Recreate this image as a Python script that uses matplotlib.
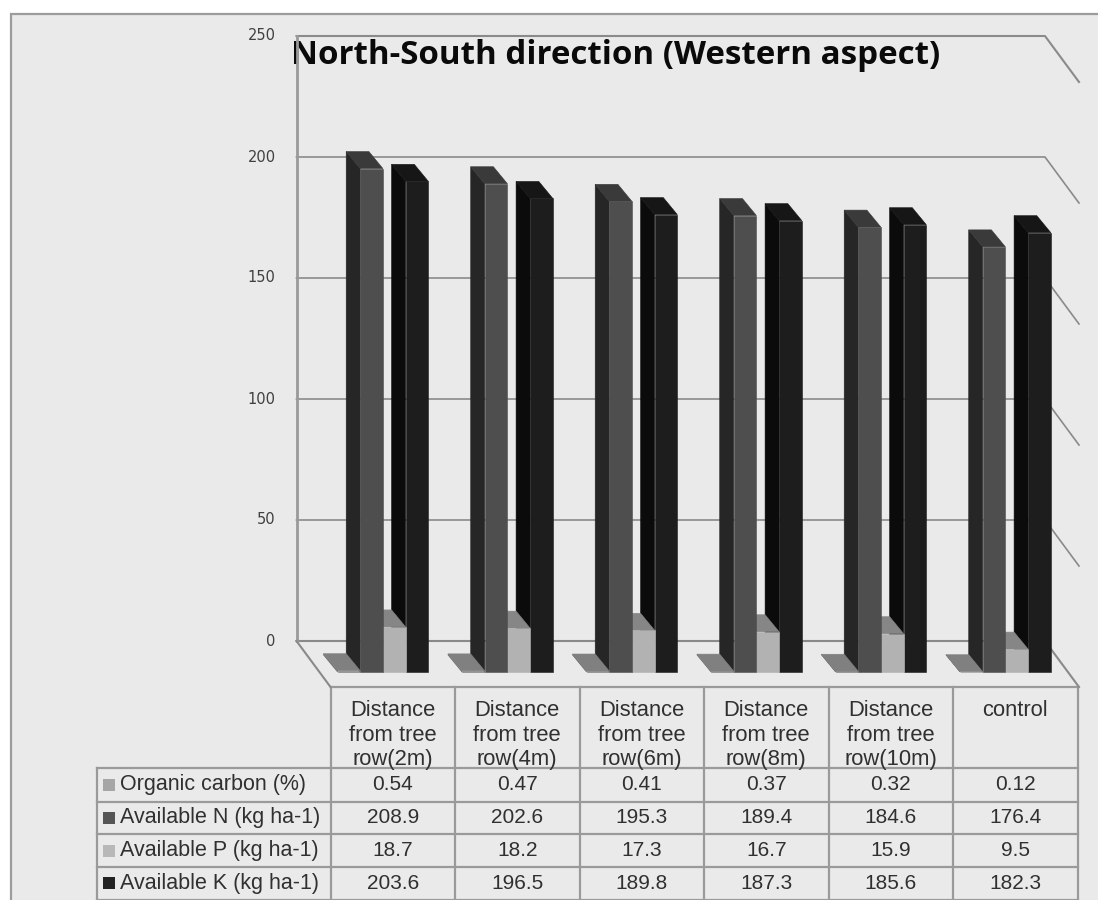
import matplotlib
matplotlib.use("Agg")
import matplotlib.pyplot as plt
from matplotlib.patches import Polygon, Rectangle

# Soil nutrients by distance from the tree row
categories = [
    ["Distance", "from tree", "row(2m)"],
    ["Distance", "from tree", "row(4m)"],
    ["Distance", "from tree", "row(6m)"],
    ["Distance", "from tree", "row(8m)"],
    ["Distance", "from tree", "row(10m)"],
    ["control"],
]
series_names = ["Organic carbon (%)", "Available N (kg ha-1)",
                "Available P (kg ha-1)", "Available K (kg ha-1)"]
organic_carbon = [0.54, 0.47, 0.41, 0.37, 0.32, 0.12]
available_n = [208.9, 202.6, 195.3, 189.4, 184.6, 176.4]
available_p = [18.7, 18.2, 17.3, 16.7, 15.9, 9.5]
available_k = [203.6, 196.5, 189.8, 187.3, 185.6, 182.3]
value_ticks = [0, 50, 100, 150, 200, 250]

series = [organic_carbon, available_n, available_p, available_k]
# front, side and top shades of each column, plus its legend key
shades = [("#808080", "#707070", "#808080", "#a6a6a6"),
          ("#4e4e4e", "#262626", "#3a3a3a", "#555555"),
          ("#b2b2b2", "#9a9a9a", "#868686", "#b8b8b8"),
          ("#1d1d1d", "#0b0b0b", "#161616", "#222222")]

W, H = 1098, 900
GROUP_PX = 124.5       # width of one category
UNIT_PX = 2.41         # height of one value unit
LEFT_PX, BASE_PX = 330.5, 672
BAR_PX = 22.7
BAR_START_PX = 7.0
DEPTH_X, DEPTH_Y = 14 / GROUP_PX, 17 / UNIT_PX   # column depth in data units
WALL_X0 = -34 / GROUP_PX
WALL_LIFT = 31 / UNIT_PX
WALL_RIGHT = 1045
GRID = "#8a8a8a"
LINE = "#9a9a9a"
TEXT = "#303030"

fig = plt.figure(figsize=(W / 100, H / 100), dpi=100, facecolor="white")

# Pixel-layout layer: page, table rules and table text
page = fig.add_axes([0, 0, 1, 1], zorder=1)
page.set_xlim(0, W)
page.set_ylim(H, 0)
page.axis("off")

# Chart layer: x in categories, y in value units, zero at the column bases
ax = fig.add_axes([0, 0, 1, 1], zorder=2)
ax.set_xlim(-LEFT_PX / GROUP_PX, (W - LEFT_PX) / GROUP_PX)
ax.set_ylim((BASE_PX - H) / UNIT_PX, BASE_PX / UNIT_PX)
ax.axis("off")

page.add_patch(Rectangle((10, 13), W, H, fc="#eaeaea", ec="none"))
page.plot([W, 10.5, 10.5], [13.5, 13.5, H], color="#9c9c9c", lw=1.6,
          solid_joinstyle="miter")

# Back wall gridlines with their returns along the right-hand side wall
wall_r = (WALL_RIGHT - LEFT_PX) / GROUP_PX
side_r = (1079 - LEFT_PX) / GROUP_PX
side_drop = 46 / UNIT_PX
for v in value_ticks:
    y = v * 2.42 / UNIT_PX + WALL_LIFT
    lw = 1.5 if v in (0, 250) else 1.2
    ax.plot([WALL_X0, wall_r, side_r], [y, y, y - side_drop],
            color=GRID, lw=lw, zorder=1)
    ax.text(WALL_X0 - 21 / GROUP_PX, y, str(v), ha="right", va="center",
            family="DejaVu Sans", fontsize=10.5, color="#404040")
ax.plot([WALL_X0, WALL_X0], [WALL_LIFT, 250 * 2.42 / UNIT_PX + WALL_LIFT],
        color=LINE, lw=2, zorder=1)
ax.plot([WALL_X0, 0], [WALL_LIFT, WALL_LIFT - side_drop], color=GRID, lw=1.5, zorder=1)

# Columns are painted right to left so nearer faces cover their neighbours
bar_w = BAR_PX / GROUP_PX
start = BAR_START_PX / GROUP_PX
z = 2
for g in range(len(categories) - 1, -1, -1):
    for s in range(len(series) - 1, -1, -1):
        v = series[s][g]
        x0 = g + start + s * bar_w
        x1 = x0 + bar_w
        front, side, top, _ = shades[s]
        ax.add_patch(Polygon([(x0, 0), (x0, v), (x0 - DEPTH_X, v + DEPTH_Y),
                              (x0 - DEPTH_X, DEPTH_Y)], fc=side, ec=side, lw=0.4, zorder=z))
        ax.add_patch(Polygon([(x0, v), (x1, v), (x1 - DEPTH_X, v + DEPTH_Y),
                              (x0 - DEPTH_X, v + DEPTH_Y)], fc=top, ec=top, lw=0.4, zorder=z))
        ax.add_patch(Rectangle((x0, 0), bar_w, v, fc=front, ec=front, lw=0.4, zorder=z))
        z += 1

page.text(291, 63.5, "North-South direction (Western aspect)", ha="left", va="baseline",
          family="Open Sans", fontweight="bold", fontsize=23.9, color="#0a0a0a")

# Data table under the chart
col_x = [LEFT_PX + i * GROUP_PX for i in range(len(categories) + 1)]
row_y = [768, 801.5, 834, 867, 899.5]
TABLE_TOP = 686.5
LABEL_X = 97
for x in col_x:
    page.plot([x, x], [TABLE_TOP, H], color=LINE, lw=1.6, zorder=3)
page.plot([col_x[0], col_x[-1]], [TABLE_TOP, TABLE_TOP], color=LINE, lw=1.6, zorder=3)
page.plot([LABEL_X, LABEL_X], [row_y[0], H], color=LINE, lw=1.6, zorder=3)
for y in row_y:
    page.plot([LABEL_X, col_x[-1]], [y, y], color=LINE, lw=1.6, zorder=3)

FONT = "Liberation Sans"
FS = 15
for i, lines in enumerate(categories):
    cx = (col_x[i] + col_x[i + 1]) / 2
    for k, line in enumerate(lines):
        page.text(cx, 711 + k * 24.5, line, ha="center", va="center", family=FONT,
                  fontsize=15.8, color=TEXT, zorder=4)

for s, name in enumerate(series_names):
    cy = (row_y[s] + row_y[s + 1]) / 2
    page.add_patch(Rectangle((103, cy - 6), 12, 12, fc=shades[s][3], ec="none", zorder=4))
    page.text(120, cy, name, ha="left", va="center", family=FONT, fontsize=15.5,
              color=TEXT, zorder=4)
    for g, v in enumerate(series[s]):
        cx = (col_x[g] + col_x[g + 1]) / 2
        page.text(cx, cy, str(v), ha="center", va="center", family=FONT, fontsize=FS,
                  color=TEXT, zorder=4)

fig.savefig("out.png", dpi=100)
